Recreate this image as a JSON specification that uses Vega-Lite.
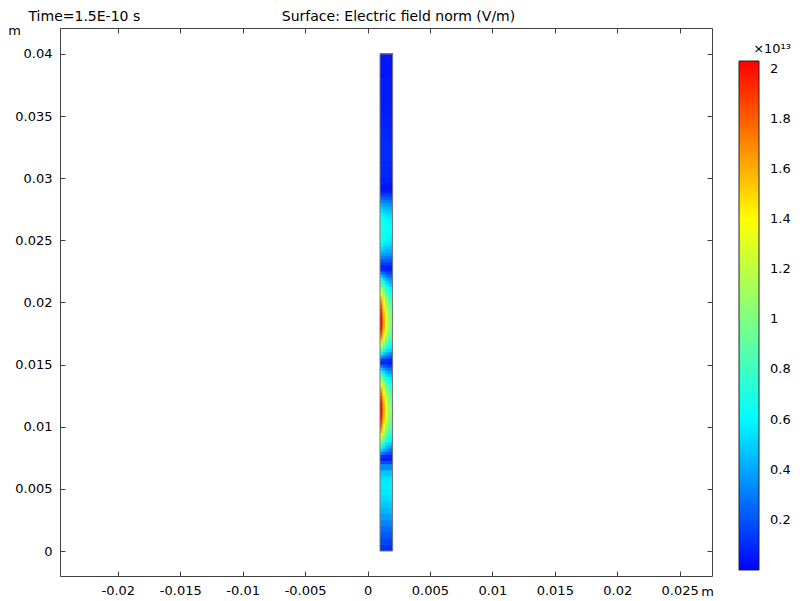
{
  "$schema": "https://vega.github.io/schema/vega-lite/v6.json",
  "width": 652,
  "height": 548,
  "autosize": {"type": "none"},
  "padding": {"left": 60, "top": 28, "right": 90, "bottom": 25},
  "background": "white",
  "config": {
    "font": "DejaVu Sans",
    "view": {"stroke": null},
    "axis": {
      "grid": false,
      "domainColor": "#404040",
      "tickColor": "#404040",
      "labelColor": "#000000",
      "titleColor": "#000000",
      "labelFontSize": 13,
      "titleFontSize": 13,
      "titleFontWeight": "normal"
    }
  },
  "datasets": {
    "cols": [
      {"col": "a", "x0": 0.001, "x1": 0.0012},
      {"col": "b", "x0": 0.0012, "x1": 0.0014},
      {"col": "c", "x0": 0.0014, "x1": 0.0016},
      {"col": "d", "x0": 0.0016, "x1": 0.0018},
      {"col": "e", "x0": 0.0018, "x1": 0.002}
    ],
    "outline": [{"x0": 0.001, "x1": 0.002, "y0": 0, "y1": 0.04}],
    "field": [
      {"y0": 0, "y1": 0.0005, "a": 0.12, "b": 0.12, "c": 0.12, "d": 0.12, "e": 0.12},
      {"y0": 0.0005, "y1": 0.001, "a": 0.16, "b": 0.16, "c": 0.16, "d": 0.16, "e": 0.16},
      {"y0": 0.001, "y1": 0.0015, "a": 0.21, "b": 0.21, "c": 0.21, "d": 0.21, "e": 0.21},
      {"y0": 0.0015, "y1": 0.002, "a": 0.26, "b": 0.26, "c": 0.26, "d": 0.26, "e": 0.26},
      {"y0": 0.002, "y1": 0.0025, "a": 0.32, "b": 0.32, "c": 0.32, "d": 0.32, "e": 0.32},
      {"y0": 0.0025, "y1": 0.003, "a": 0.38, "b": 0.38, "c": 0.38, "d": 0.38, "e": 0.38},
      {"y0": 0.003, "y1": 0.0035, "a": 0.44, "b": 0.44, "c": 0.44, "d": 0.44, "e": 0.44},
      {"y0": 0.0035, "y1": 0.004, "a": 0.49, "b": 0.49, "c": 0.49, "d": 0.49, "e": 0.49},
      {"y0": 0.004, "y1": 0.0045, "a": 0.53, "b": 0.53, "c": 0.53, "d": 0.53, "e": 0.53},
      {"y0": 0.0045, "y1": 0.005, "a": 0.56, "b": 0.56, "c": 0.56, "d": 0.56, "e": 0.56},
      {"y0": 0.005, "y1": 0.0055, "a": 0.57, "b": 0.57, "c": 0.57, "d": 0.57, "e": 0.57},
      {"y0": 0.0055, "y1": 0.006, "a": 0.55, "b": 0.55, "c": 0.55, "d": 0.55, "e": 0.55},
      {"y0": 0.006, "y1": 0.0065, "a": 0.48, "b": 0.48, "c": 0.48, "d": 0.48, "e": 0.48},
      {"y0": 0.0065, "y1": 0.007, "a": 0.33, "b": 0.33, "c": 0.33, "d": 0.33, "e": 0.33},
      {"y0": 0.007, "y1": 0.00725, "a": 0.18, "b": 0.18, "c": 0.18, "d": 0.18, "e": 0.18},
      {"y0": 0.00725, "y1": 0.0075, "a": 0.06, "b": 0.06, "c": 0.06, "d": 0.06, "e": 0.06},

      {"y0": 0.0075, "y1": 0.00775, "a": 0.13, "b": 0.11, "c": 0.09, "d": 0.09, "e": 0.08},
      {"y0": 0.00775, "y1": 0.008, "a": 0.34, "b": 0.27, "c": 0.22, "d": 0.2, "e": 0.18},
      {"y0": 0.008, "y1": 0.00825, "a": 0.54, "b": 0.42, "c": 0.35, "d": 0.31, "e": 0.28},
      {"y0": 0.00825, "y1": 0.0085, "a": 0.73, "b": 0.57, "c": 0.47, "d": 0.41, "e": 0.38},
      {"y0": 0.0085, "y1": 0.00875, "a": 0.92, "b": 0.72, "c": 0.58, "d": 0.52, "e": 0.47},
      {"y0": 0.00875, "y1": 0.009, "a": 1.1, "b": 0.85, "c": 0.7, "d": 0.62, "e": 0.56},
      {"y0": 0.009, "y1": 0.00925, "a": 1.27, "b": 0.98, "c": 0.8, "d": 0.71, "e": 0.65},
      {"y0": 0.00925, "y1": 0.0095, "a": 1.43, "b": 1.1, "c": 0.9, "d": 0.79, "e": 0.72},
      {"y0": 0.0095, "y1": 0.00975, "a": 1.57, "b": 1.21, "c": 0.98, "d": 0.87, "e": 0.79},
      {"y0": 0.00975, "y1": 0.01, "a": 1.69, "b": 1.31, "c": 1.06, "d": 0.94, "e": 0.85},
      {"y0": 0.01, "y1": 0.01025, "a": 1.79, "b": 1.39, "c": 1.13, "d": 1.0, "e": 0.91},
      {"y0": 0.01025, "y1": 0.0105, "a": 1.87, "b": 1.46, "c": 1.18, "d": 1.04, "e": 0.95},
      {"y0": 0.0105, "y1": 0.01075, "a": 1.94, "b": 1.51, "c": 1.23, "d": 1.08, "e": 0.99},
      {"y0": 0.01075, "y1": 0.011, "a": 1.99, "b": 1.55, "c": 1.26, "d": 1.11, "e": 1.01},
      {"y0": 0.011, "y1": 0.01125, "a": 2.02, "b": 1.57, "c": 1.28, "d": 1.13, "e": 1.03},
      {"y0": 0.01125, "y1": 0.0115, "a": 2.03, "b": 1.58, "c": 1.28, "d": 1.13, "e": 1.03},
      {"y0": 0.0115, "y1": 0.01175, "a": 2.02, "b": 1.57, "c": 1.27, "d": 1.12, "e": 1.02},
      {"y0": 0.01175, "y1": 0.012, "a": 1.98, "b": 1.54, "c": 1.25, "d": 1.1, "e": 1.01},
      {"y0": 0.012, "y1": 0.01225, "a": 1.93, "b": 1.5, "c": 1.22, "d": 1.08, "e": 0.98},
      {"y0": 0.01225, "y1": 0.0125, "a": 1.86, "b": 1.45, "c": 1.17, "d": 1.04, "e": 0.94},
      {"y0": 0.0125, "y1": 0.01275, "a": 1.77, "b": 1.38, "c": 1.12, "d": 0.98, "e": 0.9},
      {"y0": 0.01275, "y1": 0.013, "a": 1.66, "b": 1.29, "c": 1.05, "d": 0.92, "e": 0.84},
      {"y0": 0.013, "y1": 0.01325, "a": 1.53, "b": 1.19, "c": 0.97, "d": 0.85, "e": 0.78},
      {"y0": 0.01325, "y1": 0.0135, "a": 1.38, "b": 1.08, "c": 0.88, "d": 0.77, "e": 0.71},
      {"y0": 0.0135, "y1": 0.01375, "a": 1.23, "b": 0.96, "c": 0.78, "d": 0.69, "e": 0.63},
      {"y0": 0.01375, "y1": 0.014, "a": 1.06, "b": 0.83, "c": 0.67, "d": 0.6, "e": 0.55},
      {"y0": 0.014, "y1": 0.01425, "a": 0.88, "b": 0.69, "c": 0.56, "d": 0.5, "e": 0.46},
      {"y0": 0.01425, "y1": 0.0145, "a": 0.69, "b": 0.54, "c": 0.45, "d": 0.4, "e": 0.36},
      {"y0": 0.0145, "y1": 0.01475, "a": 0.5, "b": 0.39, "c": 0.32, "d": 0.29, "e": 0.26},
      {"y0": 0.01475, "y1": 0.015, "a": 0.3, "b": 0.23, "c": 0.2, "d": 0.18, "e": 0.16},
      {"y0": 0.015, "y1": 0.01525, "a": 0.09, "b": 0.08, "c": 0.07, "d": 0.06, "e": 0.06},

      {"y0": 0.01525, "y1": 0.0155, "a": 0.16, "b": 0.13, "c": 0.11, "d": 0.1, "e": 0.09},
      {"y0": 0.0155, "y1": 0.01575, "a": 0.4, "b": 0.32, "c": 0.26, "d": 0.24, "e": 0.22},
      {"y0": 0.01575, "y1": 0.016, "a": 0.65, "b": 0.51, "c": 0.42, "d": 0.37, "e": 0.34},
      {"y0": 0.016, "y1": 0.01625, "a": 0.88, "b": 0.69, "c": 0.56, "d": 0.5, "e": 0.46},
      {"y0": 0.01625, "y1": 0.0165, "a": 1.1, "b": 0.86, "c": 0.7, "d": 0.62, "e": 0.57},
      {"y0": 0.0165, "y1": 0.01675, "a": 1.3, "b": 1.02, "c": 0.83, "d": 0.73, "e": 0.67},
      {"y0": 0.01675, "y1": 0.017, "a": 1.49, "b": 1.16, "c": 0.94, "d": 0.83, "e": 0.76},
      {"y0": 0.017, "y1": 0.01725, "a": 1.65, "b": 1.28, "c": 1.04, "d": 0.92, "e": 0.84},
      {"y0": 0.01725, "y1": 0.0175, "a": 1.78, "b": 1.39, "c": 1.13, "d": 0.99, "e": 0.91},
      {"y0": 0.0175, "y1": 0.01775, "a": 1.89, "b": 1.47, "c": 1.19, "d": 1.05, "e": 0.96},
      {"y0": 0.01775, "y1": 0.018, "a": 1.97, "b": 1.53, "c": 1.24, "d": 1.1, "e": 1.0},
      {"y0": 0.018, "y1": 0.01825, "a": 2.01, "b": 1.57, "c": 1.27, "d": 1.12, "e": 1.02},
      {"y0": 0.01825, "y1": 0.0185, "a": 2.03, "b": 1.58, "c": 1.28, "d": 1.13, "e": 1.03},
      {"y0": 0.0185, "y1": 0.01875, "a": 2.02, "b": 1.57, "c": 1.28, "d": 1.13, "e": 1.03},
      {"y0": 0.01875, "y1": 0.019, "a": 2.0, "b": 1.56, "c": 1.26, "d": 1.11, "e": 1.01},
      {"y0": 0.019, "y1": 0.01925, "a": 1.96, "b": 1.52, "c": 1.24, "d": 1.09, "e": 0.99},
      {"y0": 0.01925, "y1": 0.0195, "a": 1.9, "b": 1.48, "c": 1.2, "d": 1.06, "e": 0.97},
      {"y0": 0.0195, "y1": 0.01975, "a": 1.83, "b": 1.43, "c": 1.16, "d": 1.02, "e": 0.93},
      {"y0": 0.01975, "y1": 0.02, "a": 1.75, "b": 1.36, "c": 1.1, "d": 0.97, "e": 0.89},
      {"y0": 0.02, "y1": 0.02025, "a": 1.65, "b": 1.28, "c": 1.04, "d": 0.92, "e": 0.84},
      {"y0": 0.02025, "y1": 0.0205, "a": 1.54, "b": 1.2, "c": 0.97, "d": 0.86, "e": 0.78},
      {"y0": 0.0205, "y1": 0.02075, "a": 1.41, "b": 1.1, "c": 0.89, "d": 0.79, "e": 0.72},
      {"y0": 0.02075, "y1": 0.021, "a": 1.28, "b": 1.0, "c": 0.81, "d": 0.72, "e": 0.65},
      {"y0": 0.021, "y1": 0.02125, "a": 1.13, "b": 0.88, "c": 0.72, "d": 0.64, "e": 0.58},
      {"y0": 0.02125, "y1": 0.0215, "a": 0.98, "b": 0.76, "c": 0.62, "d": 0.55, "e": 0.5},
      {"y0": 0.0215, "y1": 0.02175, "a": 0.82, "b": 0.64, "c": 0.52, "d": 0.46, "e": 0.42},
      {"y0": 0.02175, "y1": 0.022, "a": 0.65, "b": 0.51, "c": 0.42, "d": 0.37, "e": 0.34},
      {"y0": 0.022, "y1": 0.02225, "a": 0.48, "b": 0.38, "c": 0.31, "d": 0.28, "e": 0.25},
      {"y0": 0.02225, "y1": 0.0225, "a": 0.3, "b": 0.24, "c": 0.2, "d": 0.18, "e": 0.16},
      {"y0": 0.0225, "y1": 0.02275, "a": 0.12, "b": 0.1, "c": 0.09, "d": 0.08, "e": 0.08},

      {"y0": 0.02275, "y1": 0.023, "a": 0.07, "b": 0.07, "c": 0.07, "d": 0.07, "e": 0.07},
      {"y0": 0.023, "y1": 0.02325, "a": 0.16, "b": 0.15, "c": 0.15, "d": 0.14, "e": 0.14},
      {"y0": 0.02325, "y1": 0.0235, "a": 0.25, "b": 0.23, "c": 0.22, "d": 0.22, "e": 0.21},
      {"y0": 0.0235, "y1": 0.02375, "a": 0.33, "b": 0.31, "c": 0.29, "d": 0.29, "e": 0.28},
      {"y0": 0.02375, "y1": 0.024, "a": 0.41, "b": 0.38, "c": 0.36, "d": 0.35, "e": 0.34},
      {"y0": 0.024, "y1": 0.02425, "a": 0.48, "b": 0.44, "c": 0.42, "d": 0.41, "e": 0.4},
      {"y0": 0.02425, "y1": 0.0245, "a": 0.54, "b": 0.5, "c": 0.48, "d": 0.47, "e": 0.45},
      {"y0": 0.0245, "y1": 0.02475, "a": 0.6, "b": 0.56, "c": 0.53, "d": 0.52, "e": 0.5},
      {"y0": 0.02475, "y1": 0.025, "a": 0.64, "b": 0.6, "c": 0.57, "d": 0.56, "e": 0.54},
      {"y0": 0.025, "y1": 0.02525, "a": 0.68, "b": 0.63, "c": 0.61, "d": 0.59, "e": 0.57},
      {"y0": 0.02525, "y1": 0.0255, "a": 0.71, "b": 0.66, "c": 0.63, "d": 0.61, "e": 0.59},
      {"y0": 0.0255, "y1": 0.02575, "a": 0.72, "b": 0.67, "c": 0.65, "d": 0.63, "e": 0.61},
      {"y0": 0.02575, "y1": 0.026, "a": 0.73, "b": 0.68, "c": 0.65, "d": 0.63, "e": 0.61},
      {"y0": 0.026, "y1": 0.02625, "a": 0.72, "b": 0.67, "c": 0.65, "d": 0.63, "e": 0.61},
      {"y0": 0.02625, "y1": 0.0265, "a": 0.71, "b": 0.66, "c": 0.63, "d": 0.61, "e": 0.59},
      {"y0": 0.0265, "y1": 0.02675, "a": 0.68, "b": 0.63, "c": 0.61, "d": 0.59, "e": 0.57},
      {"y0": 0.02675, "y1": 0.027, "a": 0.64, "b": 0.6, "c": 0.57, "d": 0.56, "e": 0.54},
      {"y0": 0.027, "y1": 0.02725, "a": 0.6, "b": 0.56, "c": 0.53, "d": 0.52, "e": 0.5},
      {"y0": 0.02725, "y1": 0.0275, "a": 0.54, "b": 0.5, "c": 0.48, "d": 0.47, "e": 0.45},
      {"y0": 0.0275, "y1": 0.02775, "a": 0.48, "b": 0.44, "c": 0.42, "d": 0.41, "e": 0.4},
      {"y0": 0.02775, "y1": 0.028, "a": 0.41, "b": 0.38, "c": 0.36, "d": 0.35, "e": 0.34},
      {"y0": 0.028, "y1": 0.02825, "a": 0.33, "b": 0.31, "c": 0.29, "d": 0.29, "e": 0.28},
      {"y0": 0.02825, "y1": 0.0285, "a": 0.25, "b": 0.23, "c": 0.22, "d": 0.22, "e": 0.21},
      {"y0": 0.0285, "y1": 0.02875, "a": 0.16, "b": 0.15, "c": 0.15, "d": 0.14, "e": 0.14},
      {"y0": 0.02875, "y1": 0.029, "a": 0.07, "b": 0.07, "c": 0.07, "d": 0.07, "e": 0.07},

      {"y0": 0.029, "y1": 0.0295, "a": 0.04, "b": 0.04, "c": 0.04, "d": 0.04, "e": 0.04},
      {"y0": 0.0295, "y1": 0.03, "a": 0.07, "b": 0.07, "c": 0.07, "d": 0.07, "e": 0.07},
      {"y0": 0.03, "y1": 0.031, "a": 0.09, "b": 0.09, "c": 0.09, "d": 0.09, "e": 0.09},
      {"y0": 0.031, "y1": 0.032, "a": 0.1, "b": 0.1, "c": 0.1, "d": 0.1, "e": 0.1},
      {"y0": 0.032, "y1": 0.033, "a": 0.1, "b": 0.1, "c": 0.1, "d": 0.1, "e": 0.1},
      {"y0": 0.033, "y1": 0.034, "a": 0.09, "b": 0.09, "c": 0.09, "d": 0.09, "e": 0.09},
      {"y0": 0.034, "y1": 0.035, "a": 0.08, "b": 0.08, "c": 0.08, "d": 0.08, "e": 0.08},
      {"y0": 0.035, "y1": 0.036, "a": 0.07, "b": 0.07, "c": 0.07, "d": 0.07, "e": 0.07},
      {"y0": 0.036, "y1": 0.038, "a": 0.06, "b": 0.06, "c": 0.06, "d": 0.06, "e": 0.06},
      {"y0": 0.038, "y1": 0.04, "a": 0.05, "b": 0.05, "c": 0.05, "d": 0.05, "e": 0.05}
    ]
  },
  "layer": [
    {
      "data": {"name": "field"},
      "transform": [
        {"fold": ["a", "b", "c", "d", "e"], "as": ["col", "E"]},
        {"lookup": "col", "from": {"data": {"name": "cols"}, "key": "col", "fields": ["x0", "x1"]}}
      ],
      "mark": {"type": "rect", "x2Offset": 0.6, "y2Offset": -0.6},
      "encoding": {
        "x": {
          "field": "x0", "type": "quantitative",
          "scale": {"domain": [-0.02463, 0.02759], "nice": false, "zero": false},
          "axis": {
            "orient": "bottom",
            "values": [-0.02, -0.015, -0.01, -0.005, 0, 0.005, 0.01, 0.015, 0.02, 0.025],
            "labelExpr": "'' + datum.value",
            "tickSize": -5,
            "labelPadding": 13,
            "title": "m",
            "titleAngle": 0,
            "titleX": 647,
            "titleY": 15,
            "titleAlign": "center",
            "titleBaseline": "middle"
          }
        },
        "x2": {"field": "x1"},
        "y": {
          "field": "y0", "type": "quantitative",
          "scale": {"domain": [-0.00201, 0.04209], "nice": false, "zero": false},
          "axis": {
            "orient": "left",
            "values": [0, 0.005, 0.01, 0.015, 0.02, 0.025, 0.03, 0.035, 0.04],
            "labelExpr": "'' + datum.value",
            "tickSize": -5,
            "labelPadding": 13,
            "title": "m",
            "titleAngle": 0,
            "titleX": -46,
            "titleY": 2,
            "titleAlign": "center",
            "titleBaseline": "middle"
          }
        },
        "y2": {"field": "y1"},
        "color": {
          "field": "E", "type": "quantitative",
          "scale": {"domain": [0, 0.61, 1.4, 2.03], "range": ["#0000ff", "#00ffff", "#ffff00", "#ff0000"], "interpolate": "rgb"},
          "legend": {
            "type": "gradient",
            "orient": "none",
            "legendX": 679,
            "legendY": 15,
            "direction": "vertical",
            "gradientLength": 509,
            "gradientThickness": 20,
            "gradientStrokeColor": "#222222",
            "gradientStrokeWidth": 1,
            "title": "×10¹³",
            "titleFontSize": 13,
            "titleFontWeight": "normal",
            "titleColor": "#000000",
            "titleAnchor": "end",
            "titlePadding": 5,
            "values": [0.2, 0.4, 0.6, 0.8, 1, 1.2, 1.4, 1.6, 1.8, 2],
            "labelExpr": "'' + datum.value",
            "labelFontSize": 13,
            "labelColor": "#000000",
            "labelOffset": 11,
            "labelOverlap": false
          }
        }
      }
    },
    {
      "data": {"name": "outline"},
      "mark": {"type": "rect", "filled": false, "stroke": "#777777", "strokeWidth": 1},
      "encoding": {
        "x": {
          "field": "x0", "type": "quantitative",
          "scale": {"domain": [-0.02463, 0.02759], "nice": false, "zero": false},
          "axis": {
            "orient": "top",
            "values": [-0.02, -0.015, -0.01, -0.005, 0, 0.005, 0.01, 0.015, 0.02, 0.025],
            "labels": false,
            "tickSize": -5,
            "title": "Surface: Electric field norm (V/m)",
            "titleFontSize": 14,
            "titleAngle": 0,
            "titleX": 338,
            "titleY": -12,
            "titleAlign": "center",
            "titleBaseline": "middle"
          }
        },
        "x2": {"field": "x1"},
        "y": {
          "field": "y0", "type": "quantitative",
          "scale": {"domain": [-0.00201, 0.04209], "nice": false, "zero": false},
          "axis": {
            "orient": "right",
            "values": [0, 0.005, 0.01, 0.015, 0.02, 0.025, 0.03, 0.035, 0.04],
            "labels": false,
            "tickSize": -5,
            "title": "Time=1.5E-10 s",
            "titleFontSize": 14,
            "titleAngle": 0,
            "titleX": -684,
            "titleY": -12,
            "titleAlign": "left",
            "titleBaseline": "middle"
          }
        },
        "y2": {"field": "y1"}
      }
    }
  ],
  "resolve": {"axis": {"x": "independent", "y": "independent"}}
}
